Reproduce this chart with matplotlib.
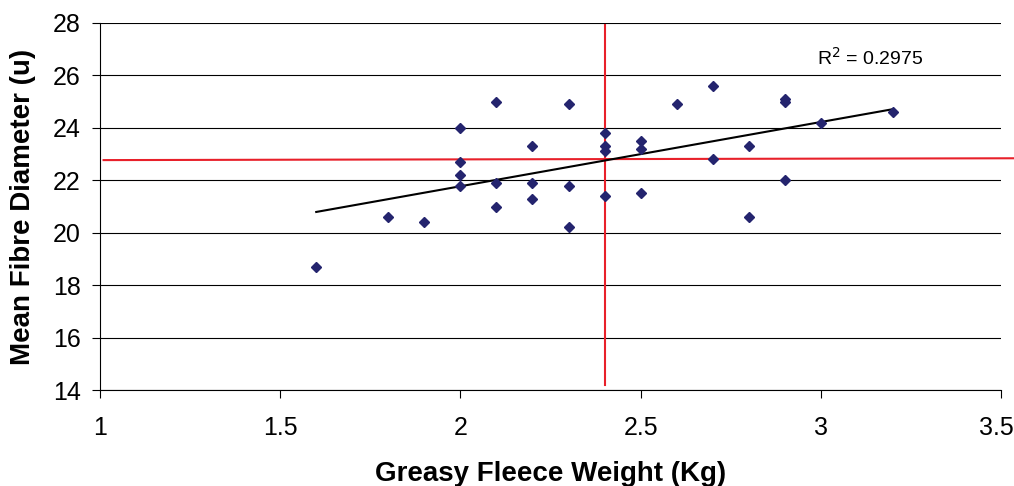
import numpy as np
import matplotlib
matplotlib.use("Agg")
import matplotlib.pyplot as plt
import matplotlib.transforms as mtransforms

plt.rcParams["font.family"] = ["Liberation Sans", "DejaVu Sans"]

# greasy fleece weight (kg) and mean fibre diameter (u) per animal
fleece_weight = [
    1.6, 1.8, 1.9,
    2.0, 2.0, 2.0, 2.0,
    2.1, 2.1, 2.1,
    2.2, 2.2, 2.2,
    2.3, 2.3, 2.3,
    2.4, 2.4, 2.4, 2.4,
    2.5, 2.5, 2.5,
    2.6,
    2.7, 2.7,
    2.8, 2.8,
    2.9, 2.9, 2.9,
    3.0, 3.2,
]
fibre_diameter = [
    18.7, 20.6, 20.4,
    24.0, 22.7, 22.2, 21.8,
    25.0, 21.9, 21.0,
    23.3, 21.9, 21.3,
    24.9, 21.8, 20.2,
    23.8, 23.3, 23.1, 21.4,
    23.5, 23.2, 21.5,
    24.9,
    25.6, 22.8,
    23.3, 20.6,
    25.1, 25.0, 22.0,
    24.2, 24.6,
]

# hand-drawn reference lines (red)
ref_weight = 2.4
ref_diameter = (22.77, 22.84)
r2_text = "R$^2$ = 0.2975"

x = np.array(fleece_weight)
y = np.array(fibre_diameter)

fig = plt.figure(figsize=(10.14, 4.86), dpi=100)
ax = fig.add_axes([0.0986, 0.1975, 0.8886, 0.7552])

ax.set_xlim(1, 3.5)
ax.set_ylim(14, 28)
ax.set_xticks([1, 1.5, 2, 2.5, 3, 3.5])
ax.set_xticklabels(["1", "1.5", "2", "2.5", "3", "3.5"])
ax.set_yticks(range(14, 29, 2))

ax.grid(axis="y", color="black", linewidth=0.8)
ax.set_axisbelow(True)
for side in ["top", "right"]:
    ax.spines[side].set_visible(False)
ax.spines["left"].set_linewidth(0.8)
ax.spines["bottom"].set_linewidth(0.8)
ax.tick_params(axis="y", labelsize=18, length=5.8, width=0.8, pad=8)
ax.tick_params(axis="x", labelsize=18, length=5.8, width=0.8, pad=13)

# keep the last x label inside the canvas
last = ax.get_xticklabels()[-1]
last.set_transform(last.get_transform() +
                   mtransforms.ScaledTranslation(-5 / 100, 0, fig.dpi_scale_trans))

# linear trend line
slope, intercept = np.polyfit(x, y, 1)
xs = np.array([x.min(), x.max()])
ax.plot(xs, slope * xs + intercept, color="black", linewidth=1.5, zorder=3)

ax.plot(x, y, linestyle="none", marker="D", markersize=4.8,
        color="#24246e", zorder=4)

# red reference lines
ax.plot([1.01, 3.54], list(ref_diameter), color="#e8202a", linewidth=1.5,
        clip_on=False, zorder=2)
ax.plot([ref_weight, ref_weight], [14.2, 27.92], color="#e8202a",
        linewidth=1.5, clip_on=False, zorder=2)

ax.text(3.136, 26.66, r2_text, fontsize=14, ha="center", va="center")

ax.set_xlabel("Greasy Fleece Weight (Kg)", fontsize=20, fontweight="bold",
              labelpad=15)
ax.set_ylabel("Mean Fibre Diameter (u)", fontsize=20, fontweight="bold",
              labelpad=12)

fig.savefig("out.png", dpi=100)
